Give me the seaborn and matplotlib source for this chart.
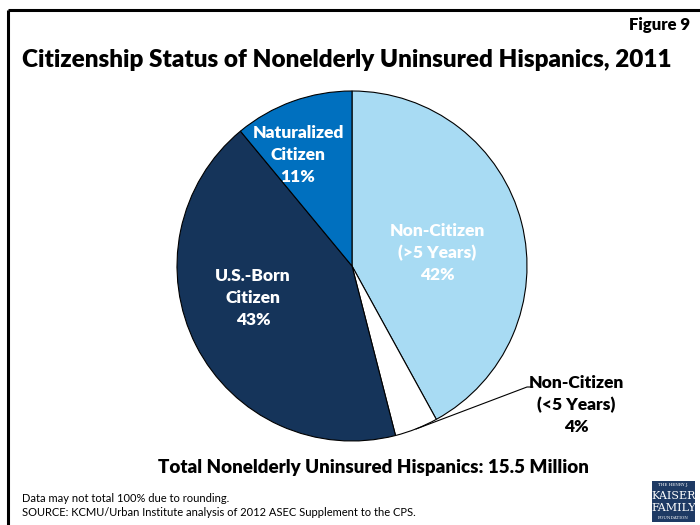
import matplotlib
matplotlib.use("Agg")
import matplotlib.pyplot as plt
from matplotlib.patches import Rectangle
import seaborn as sns

# Chart data
categories = ["Non-Citizen\n(>5 Years)", "Non-Citizen\n(<5 Years)", "U.S.-Born\nCitizen", "Naturalized\nCitizen"]
shares = [42, 4, 43, 11]
title = "Citizenship Status of Nonelderly Uninsured Hispanics, 2011"
total_note = "Total Nonelderly Uninsured Hispanics: 15.5 Million"
footnotes = ["Data may not total 100% due to rounding.",
             "SOURCE: KCMU/Urban Institute analysis of 2012 ASEC Supplement to the CPS."]

sns.set_theme(style="white")
plt.rcParams["font.family"] = ["Lato", "DejaVu Sans"]
plt.rcParams["text.color"] = "black"

colors = sns.color_palette(["#A8DBF3", "#FFFFFF", "#15345A", "#0070BF"])

fig = plt.figure(figsize=(7, 5.25), dpi=100)
ax = fig.add_axes([0, 0, 1, 1])

H = 525  # converts top-down pixel rows to axis y
cx, cy, r = 352, H - 266, 175
ax.pie(shares, colors=colors, startangle=90, counterclock=False,
       center=(cx, cy), radius=r, frame=True,
       wedgeprops=dict(edgecolor="black", linewidth=0.8))
ax.set_xlim(0, 700)
ax.set_ylim(0, H)
ax.set_aspect("equal")
ax.axis("off")

lab_kw = dict(ha="center", va="center", fontsize=12.5, fontweight="heavy",
              linespacing=1.45)
inside = {0: (437, 253), 2: (253, 298), 3: (298, 155)}
for i, (px, py) in inside.items():
    ax.text(px, H - py, f"{categories[i]}\n{shares[i]}%", color="white", **lab_kw)

# small slice: label outside with a leader line
ax.text(576, H - 405, f"{categories[1]}\n{shares[1]}%", color="black", **lab_kw)
ax.plot([533, 527, 416], [H - 387, H - 387, H - 429], color="black", lw=0.8)

# title and notes
ax.text(347, H - 60, title, ha="center", va="center", fontsize=17.5, fontweight="heavy")
ax.text(690, H - 25, "Figure 9", ha="right", va="center", fontsize=12, fontweight="heavy")
ax.text(373, H - 467, total_note, ha="center", va="center", fontsize=13.5, fontweight="heavy")
ax.text(22, H - 498, footnotes[0], ha="left", va="center", fontsize=8)
ax.text(22, H - 513, footnotes[1], ha="left", va="center", fontsize=8)

# frame lines
ax.plot([8, 700], [H - 10, H - 10], color="black", lw=2.2, solid_capstyle="butt")
ax.plot([8, 8], [H - 10, 0], color="black", lw=2.2, solid_capstyle="butt")

# foundation logo
ax.add_patch(Rectangle((652, H - 522), 43, 41, facecolor="#1E3A64", edgecolor="none"))
logo_lines = [("THE HENRY J.", 485, 3), ("KAISER", 496, 8), ("FAMILY", 508, 8), ("FOUNDATION", 518, 3)]
for txt, py, fs in logo_lines:
    ax.text(673.5, H - py, txt, color="white", ha="center", va="center", fontsize=fs,
            family="DejaVu Serif")

fig.savefig("out.png", dpi=100)
